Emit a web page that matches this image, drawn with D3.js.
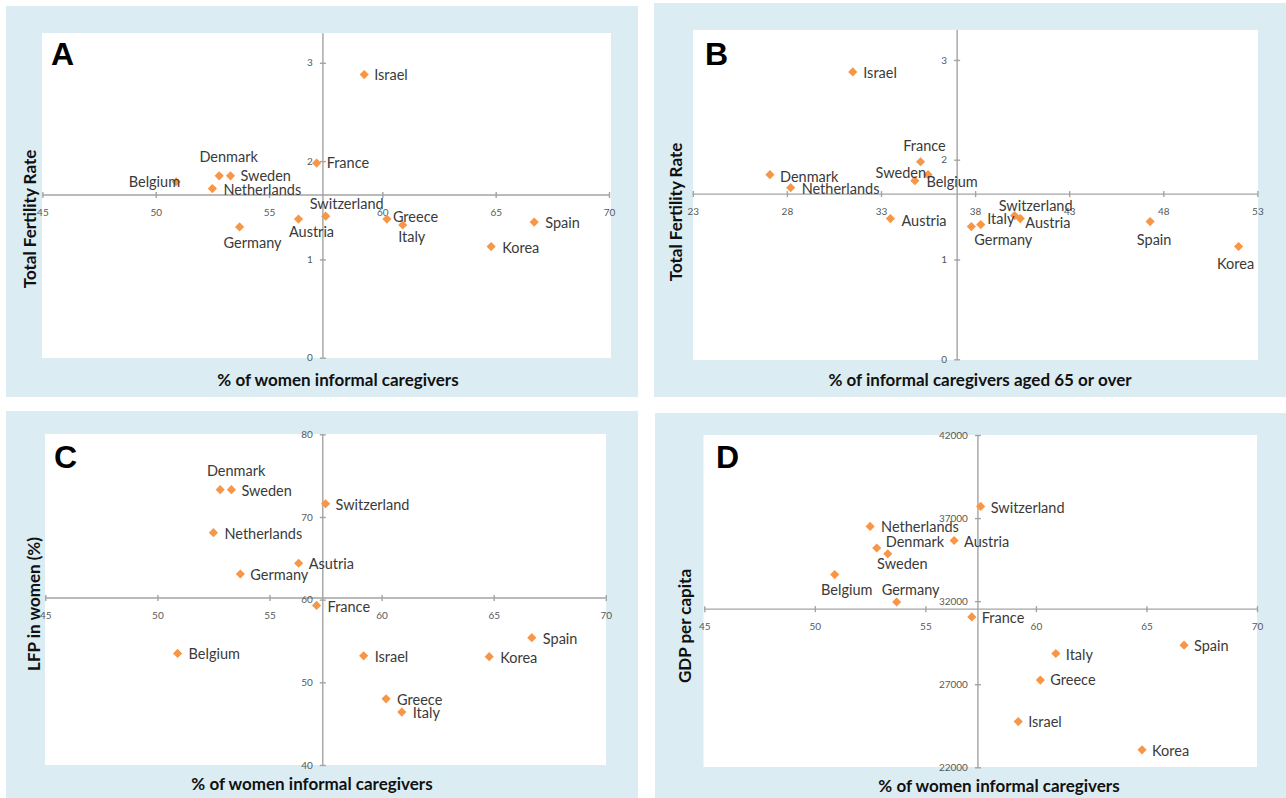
<!DOCTYPE html>
<html>
<head>
<meta charset="utf-8">
<script src="https://cdn.jsdelivr.net/npm/d3@7"></script>
<style>
  html, body { margin: 0; padding: 0; background: #ffffff; }
  svg { display: block; }
  .pt-label { font-family: Lato, "Open Sans", sans-serif; font-size: 14.5px; fill: #3a3a3a; }
  .ax-title { font-family: Lato, "Open Sans", sans-serif; font-size: 17px; font-weight: 700; fill: #111; }
  .letter { font-family: "Liberation Sans", Arial, sans-serif; font-size: 32px; font-weight: 700; fill: #000; }
  .tick text { font-family: Lato, "Open Sans", sans-serif; font-size: 10px; fill: #595959; }
  .tick line, .ax-line { stroke: #a3a3a3; stroke-width: 1.4; }
</style>
</head>
<body>
<svg id="chart" width="1286" height="798"></svg>
<script>
// Countries, in the same order in every series below
const countries = ["Belgium", "Netherlands", "Denmark", "Sweden", "Germany", "Austria",
  "France", "Switzerland", "Israel", "Greece", "Italy", "Korea", "Spain"];

// % of informal caregivers who are women
const womenCaregivers = [50.9, 52.5, 52.8, 53.3, 53.7, 56.3, 57.1, 57.5, 59.2, 60.2, 60.9, 64.8, 66.7];
// % of informal caregivers aged 65 or over
const olderCaregivers = [34.8, 28.2, 27.1, 35.5, 37.8, 40.4, 35.1, 40.1, 31.5, 33.5, 38.3, 52.0, 47.3];
// Total fertility rate
const fertility = [1.79, 1.72, 1.85, 1.85, 1.33, 1.41, 1.98, 1.44, 2.88, 1.41, 1.35, 1.13, 1.38];
// Labour force participation of women (%)
const lfpWomen = [53.5, 68.1, 73.3, 73.3, 63.1, 64.4, 59.3, 71.6, 53.2, 48.0, 46.4, 53.1, 55.4];
// GDP per capita
const gdpPerCapita = [33600, 36500, 35200, 34850, 31950, 35650, 31050, 37700, 24750, 27250, 28850, 23050, 29350];

// Point labels as printed on each panel
const labelsA = countries;
const labelsB = ["Belgium", "Netherlands", "Denmark", "Sweden", "Germany", "Austria",
  "France", "Switzerland", "Israel", "Austria", "Italy", "Korea", "Spain"];
const labelsC = ["Belgium", "Netherlands", "Denmark", "Sweden", "Germany", "Asutria",
  "France", "Switzerland", "Israel", "Greece", "Italy", "Korea", "Spain"];
const labelsD = countries;

// Tick values
const ticksWomen = [45, 50, 55, 60, 65, 70];
const ticksOlder = [23, 28, 33, 38, 43, 48, 53];
const ticksFertility = [0, 1, 2, 3];
const ticksLfp = [40, 50, 60, 70, 80];
const ticksGdp = [22000, 27000, 32000, 37000, 42000];

// Axis titles
const titleWomen = "% of women informal caregivers";
const titleOlder = "% of informal caregivers aged 65 or over";
const titleFertility = "Total Fertility Rate";
const titleLfp = "LFP in women (%)";
const titleGdp = "GDP per capita";

// Label placement per point: [dx, dy, anchor]
const R = [11, 1, "start"];
const placeA = [[4, 0, "end"], R, [9.5, -19, "middle"], [10, 0, "start"], [13, 16, "middle"],
  [13, 13, "middle"], [10, 0, "start"], [21, -12, "middle"], [10, 0, "start"], [6, -2, "start"],
  [9, 12, "middle"], R, R];
const placeB = [[11.5, 1, "start"], R, [10, 2, "start"], [-2, -2, "end"], [32, 13, "middle"],
  [5, 4, "start"], [4, -16, "middle"], [21, -10, "middle"], [10.5, 1, "start"], [11, 2, "start"],
  [6.5, -6, "start"], [-3, 17, "middle"], [4, 18, "middle"]];
const placeC = [R, R, [16, -19, "middle"], [10, 1, "start"], [10, 1, "start"], [10, 1, "start"],
  R, [10, 1, "start"], R, R, R, R, R];
const placeD = [[12, 15, "middle"], R, [9, -6, "start"], [14.5, 10, "middle"], [14, -12, "middle"],
  [10, 1, "start"], [10, 1, "start"], [10, 1, "start"], [10, 0, "start"], [10, 0, "start"],
  [10, 1, "start"], [10, 1, "start"], [10, 1, "start"]];

const panels = [
  { letter: "A", xs: womenCaregivers, ys: fertility, labels: labelsA, place: placeA,
    xTicks: ticksWomen, yTicks: ticksFertility, xTitle: titleWomen, yTitle: titleFertility,
    xDomain: [45, 70], yDomain: [0, 3.3],
    bg: [6, 6, 632, 391], plot: [42, 33, 569, 325], xRange: [42.4, 609], yRange: [357.7, 33.3],
    letterPos: [51, 65], xTitlePos: [338, 380], yTitlePos: [30, 219] },
  { letter: "B", xs: olderCaregivers, ys: fertility, labels: labelsB, place: placeB,
    xTicks: ticksOlder, yTicks: ticksFertility, xTitle: titleOlder, yTitle: titleFertility,
    xDomain: [23, 53], yDomain: [0, 3.3],
    bg: [654, 3, 632, 394], plot: [693, 30, 565, 330], xRange: [692.8, 1257.4], yRange: [359.3, 30],
    letterPos: [705, 65], xTitlePos: [980, 380], yTitlePos: [676, 212] },
  { letter: "C", xs: womenCaregivers, ys: lfpWomen, labels: labelsC, place: placeC,
    xTicks: ticksWomen, yTicks: ticksLfp, xTitle: titleWomen, yTitle: titleLfp,
    xDomain: [45, 70], yDomain: [40, 80],
    bg: [6, 411, 632, 387], plot: [45, 434, 561, 331], xRange: [45.3, 605.8], yRange: [765, 434.3],
    letterPos: [54, 468], xTitlePos: [312, 784], yTitlePos: [34, 604] },
  { letter: "D", xs: womenCaregivers, ys: gdpPerCapita, labels: labelsD, place: placeD,
    xTicks: ticksWomen, yTicks: ticksGdp, xTitle: titleWomen, yTitle: titleGdp,
    xDomain: [45, 70], yDomain: [22000, 42000],
    bg: [655, 413, 631, 385], plot: [703.5, 435, 553.5, 332], xRange: [704.3, 1257], yRange: [767.3, 435],
    letterPos: [716, 468], xTitlePos: [999, 786], yTitlePos: [685, 626] }
];

const svg = d3.select("#chart");
const diamond = d3.symbol().type(d3.symbolSquare).size(42);

panels.forEach(p => {
  const g = svg.append("g");
  g.append("rect").attr("x", p.bg[0]).attr("y", p.bg[1]).attr("width", p.bg[2]).attr("height", p.bg[3])
    .attr("fill", "#dbedf3");
  g.append("rect").attr("x", p.plot[0]).attr("y", p.plot[1]).attr("width", p.plot[2]).attr("height", p.plot[3])
    .attr("fill", "#ffffff");

  const x = d3.scaleLinear().domain(p.xDomain).range(p.xRange);
  const y = d3.scaleLinear().domain(p.yDomain).range(p.yRange);

  // Axes cross at the means of the two variables
  const cx = x(d3.mean(p.xs));
  const cy = y(d3.mean(p.ys));

  g.append("line").attr("class", "ax-line")
    .attr("x1", p.xRange[0]).attr("x2", p.xRange[1]).attr("y1", cy).attr("y2", cy);
  g.append("line").attr("class", "ax-line")
    .attr("x1", cx).attr("x2", cx).attr("y1", p.yRange[0]).attr("y2", p.yRange[1]);

  const xAxis = g.append("g").attr("transform", `translate(0,${cy - 3})`)
    .call(d3.axisBottom(x).tickValues(p.xTicks).tickSize(6).tickFormat(d3.format("d")));
  xAxis.select(".domain").remove();
  xAxis.selectAll("text").attr("y", 21).attr("dy", "0.32em");

  const yAxis = g.append("g").attr("transform", `translate(${cx + 3},0)`)
    .call(d3.axisLeft(y).tickValues(p.yTicks).tickSize(6).tickPadding(7).tickFormat(d3.format("d")));
  yAxis.select(".domain").remove();

  // Points
  const pts = p.xs.map((v, i) => ({ x: v, y: p.ys[i], label: p.labels[i], place: p.place[i] }));
  g.selectAll("path.pt").data(pts).join("path").attr("class", "pt")
    .attr("d", diamond)
    .attr("transform", d => `translate(${x(d.x)},${y(d.y)}) rotate(45)`)
    .attr("fill", "#f79646");

  g.selectAll("text.pt-label").data(pts).join("text").attr("class", "pt-label")
    .attr("x", d => x(d.x) + d.place[0])
    .attr("y", d => y(d.y) + d.place[1])
    .attr("dy", "0.35em")
    .attr("text-anchor", d => d.place[2])
    .text(d => d.label);

  g.append("text").attr("class", "letter").attr("x", p.letterPos[0]).attr("y", p.letterPos[1]).text(p.letter);

  g.append("text").attr("class", "ax-title")
    .attr("x", p.xTitlePos[0]).attr("y", p.xTitlePos[1]).attr("dy", "0.35em")
    .attr("text-anchor", "middle").text(p.xTitle);
  g.append("text").attr("class", "ax-title")
    .attr("transform", `translate(${p.yTitlePos[0]},${p.yTitlePos[1]}) rotate(-90)`)
    .attr("dy", "0.35em").attr("text-anchor", "middle").text(p.yTitle);
});
</script>
</body>
</html>
